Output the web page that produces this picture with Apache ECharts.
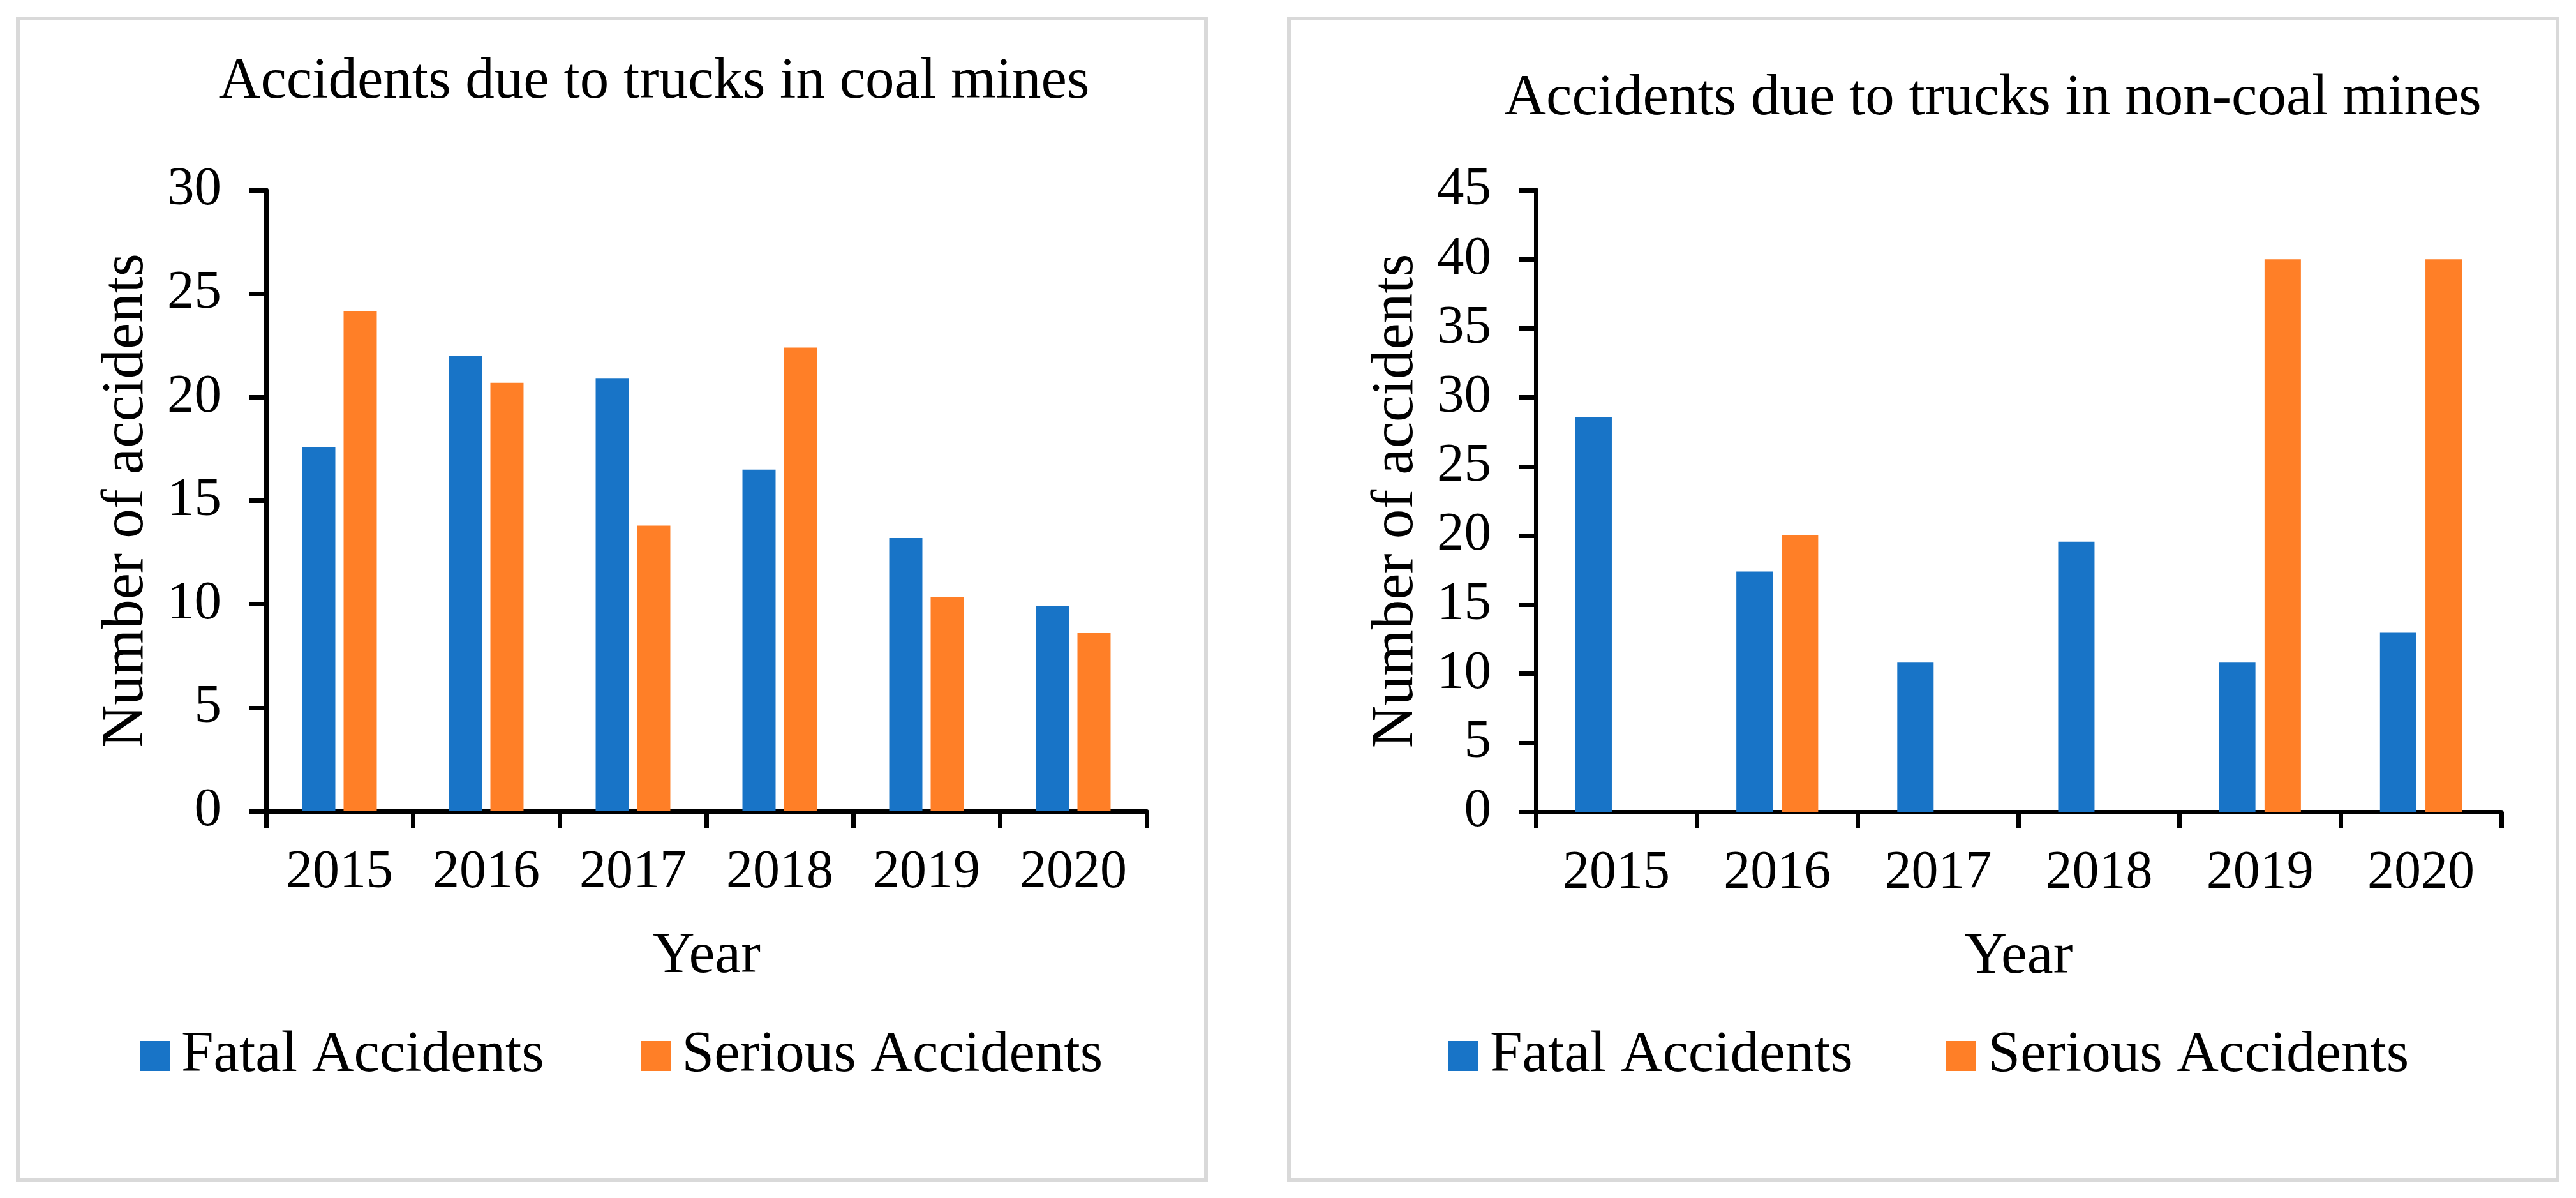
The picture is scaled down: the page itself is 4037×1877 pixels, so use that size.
<!DOCTYPE html>
<html>
<head>
<meta charset="utf-8">
<script src="https://cdn.jsdelivr.net/npm/echarts@6/dist/echarts.min.js"></script>
<style>
html,body{margin:0;padding:0;background:#fff;}
#chart{width:4037px;height:1877px;}
</style>
</head>
<body>
<div id="chart"></div>
<script>
const years = ['2015','2016','2017','2018','2019','2020'];
const coalFatal = [17.6, 22.0, 20.9, 16.5, 13.2, 9.9];
const coalSerious = [24.15, 20.7, 13.8, 22.4, 10.35, 8.6];
const nonCoalFatal = [28.6, 17.4, 10.85, 19.55, 10.85, 13.0];
const nonCoalSerious = [null, 20.0, null, null, 40.0, 40.0];
const coalTicks = {min: 0, max: 30, interval: 5};
const nonCoalTicks = {min: 0, max: 45, interval: 5};
const seriesNames = ['Fatal Accidents', 'Serious Accidents'];
const titles = ['Accidents due to trucks in coal mines', 'Accidents due to trucks in non-coal mines'];

const FONT = '"Times New Roman", "Liberation Serif", serif';
const BLUE = '#1874C7';
const ORANGE = '#FF7F27';

const chart = echarts.init(document.getElementById('chart'), null, {renderer: 'canvas'});

function xAx(gi){
  return {
    type: 'category', gridIndex: gi, data: years,
    axisLine: {lineStyle: {color: '#000', width: 7}},
    axisTick: {show: true, length: 26, inside: false, lineStyle: {color: '#000', width: 7}},
    axisLabel: {color: '#000', fontFamily: FONT, fontSize: 84, margin: 55},
    name: 'Year', nameLocation: 'middle', nameGap: 182,
    nameTextStyle: {color: '#000', fontFamily: FONT, fontSize: 92}
  };
}
function yAx(gi, t){
  return {
    type: 'value', gridIndex: gi, min: t.min, max: t.max, interval: t.interval,
    splitLine: {show: false},
    axisLine: {show: true, lineStyle: {color: '#000', width: 7}},
    axisTick: {show: true, length: 26, lineStyle: {color: '#000', width: 7}},
    axisLabel: {color: '#000', fontFamily: FONT, fontSize: 85, margin: 70},
    name: 'Number of accidents', nameLocation: 'middle', nameGap: 172,
    nameTextStyle: {color: '#000', fontFamily: FONT, fontSize: 93}
  };
}
function bar(name, data, gi, color){
  return {
    type: 'bar', name: name, data: data, xAxisIndex: gi, yAxisIndex: gi,
    barWidth: '22.6%', barGap: '25%', itemStyle: {color: color},
    emphasis: {disabled: true}
  };
}
function legend(left, top, pad, gap){
  return {
    left: left, top: top, orient: 'horizontal', icon: 'rect',
    itemWidth: 47, itemHeight: 47, itemGap: gap,
    data: seriesNames,
    textStyle: {color: '#000', fontFamily: FONT, fontSize: 91, padding: [0,0,0,pad]}
  };
}

const option = {
  backgroundColor: '#fff',
  animation: false,
  title: [
    {text: titles[0], left: 1025, top: 84, textAlign: 'center', padding: 0,
     textStyle: {color: '#000', fontFamily: FONT, fontSize: 91, fontWeight: 'normal'}},
    {text: titles[1], left: 3123, top: 110, textAlign: 'center', padding: 0,
     textStyle: {color: '#000', fontFamily: FONT, fontSize: 91, fontWeight: 'normal'}}
  ],
  legend: [
    legend(215, 1604, 12, 152),
    legend(2264, 1604, 14, 146)
  ],
  grid: [
    {left: 417, top: 298, width: 1380, height: 973},
    {left: 2407, top: 298, width: 1513, height: 974}
  ],
  xAxis: [xAx(0), xAx(1)],
  yAxis: [yAx(0, coalTicks), yAx(1, nonCoalTicks)],
  series: [
    bar(seriesNames[0], coalFatal, 0, BLUE),
    bar(seriesNames[1], coalSerious, 0, ORANGE),
    bar(seriesNames[0], nonCoalFatal, 1, BLUE),
    bar(seriesNames[1], nonCoalSerious, 1, ORANGE)
  ],
  graphic: [
    {type: 'rect', shape: {x: 28, y: 29, width: 1862, height: 1820},
     style: {fill: 'none', stroke: '#D9D9D9', lineWidth: 6}, silent: true, z: -1},
    {type: 'rect', shape: {x: 2020, y: 29, width: 1988, height: 1820},
     style: {fill: 'none', stroke: '#D9D9D9', lineWidth: 6}, silent: true, z: -1}
  ]
};
chart.setOption(option);
</script>
</body>
</html>
